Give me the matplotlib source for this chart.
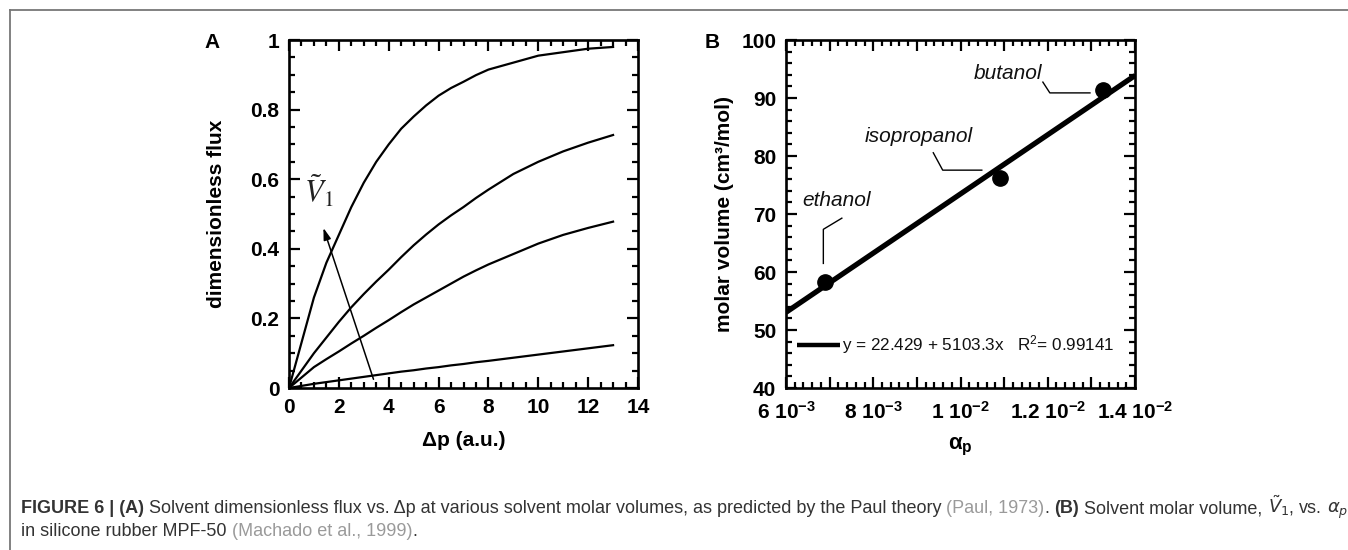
import matplotlib
matplotlib.use("Agg")
import matplotlib.pyplot as plt
from matplotlib.ticker import MultipleLocator, FixedLocator, FixedFormatter
from matplotlib.lines import Line2D
import numpy as np

plt.rcParams['font.family'] = ['Liberation Sans', 'DejaVu Sans']
plt.rcParams['mathtext.fontset'] = 'custom'
plt.rcParams['mathtext.rm'] = 'Liberation Sans'
plt.rcParams['mathtext.it'] = 'Liberation Sans:italic'
plt.rcParams['mathtext.bf'] = 'Liberation Sans:bold'

# ---------------- Panel A data ----------------
dp = [0, 0.5, 1, 1.5, 2, 2.5, 3, 3.5, 4, 4.5, 5, 5.5, 6, 6.5, 7, 7.5, 8, 9, 10, 11, 12, 13]
flux_1 = [0, 0.13, 0.26, 0.36, 0.44, 0.52, 0.59, 0.65, 0.70, 0.745, 0.78, 0.812, 0.84, 0.862, 0.88, 0.899,
          0.915, 0.935, 0.955, 0.965, 0.975, 0.98]
flux_2 = [0, 0.05, 0.10, 0.145, 0.19, 0.232, 0.27, 0.306, 0.34, 0.376, 0.41, 0.441, 0.47, 0.496, 0.52, 0.546,
          0.57, 0.615, 0.65, 0.68, 0.705, 0.727]
flux_3 = [0, 0.03, 0.06, 0.083, 0.105, 0.128, 0.15, 0.173, 0.195, 0.218, 0.24, 0.26, 0.28, 0.30, 0.32, 0.338,
          0.355, 0.385, 0.415, 0.44, 0.46, 0.478]
flux_4 = [0, 0.006, 0.012, 0.017, 0.022, 0.027, 0.032, 0.037, 0.042, 0.047, 0.051, 0.056, 0.06, 0.065, 0.069,
          0.074, 0.078, 0.087, 0.096, 0.105, 0.114, 0.123]
arrow_tail = (3.39, 0.025)
arrow_head = (1.38, 0.46)
arrow_label_pos = (1.2, 0.565)

# ---------------- Panel B data ----------------
solvents = ["ethanol", "isopropanol", "butanol"]
alpha_p = [0.00689, 0.01091, 0.01327]
molar_volume = [58.2, 76.2, 91.4]
fit_intercept = 22.429
fit_slope = 5103.3
fit_r2 = 0.99141
xb_ticks = [0.006, 0.007, 0.008, 0.009, 0.010, 0.011, 0.012, 0.013, 0.014]
xb_labels = [r"$\mathbf{6\ 10^{-3}}$", "", r"$\mathbf{8\ 10^{-3}}$", "", r"$\mathbf{1\ 10^{-2}}$", "",
             r"$\mathbf{1.2\ 10^{-2}}$", "", r"$\mathbf{1.4\ 10^{-2}}$"]

W, H = 1348, 550
fig = plt.figure(figsize=(W / 100, H / 100), dpi=100)
fig.patch.set_facecolor('white')


def ax_rect(l, t, r, b):
    return [l / W, 1 - b / H, (r - l) / W, (b - t) / H]


def style_axes(ax):
    for s in ax.spines.values():
        s.set_linewidth(1.9)
        s.set_color('black')
    ax.tick_params(which='both', direction='in', top=True, right=True, width=1.6, color='black')
    ax.tick_params(which='major', length=8, labelsize=15, pad=7)
    ax.tick_params(which='minor', length=4.5)
    for lab in ax.get_xticklabels() + ax.get_yticklabels():
        lab.set_fontweight('bold')


# ---------------- Panel A ----------------
axA = fig.add_axes(ax_rect(289, 40, 638, 388))
for f in (flux_1, flux_2, flux_3, flux_4):
    axA.plot(dp, f, color='black', lw=1.6, solid_joinstyle='round')
axA.set_xlim(0, 14)
axA.set_ylim(0, 1)
axA.xaxis.set_major_locator(MultipleLocator(2))
axA.xaxis.set_minor_locator(MultipleLocator(0.5))
axA.yaxis.set_major_locator(FixedLocator([0, 0.2, 0.4, 0.6, 0.8, 1.0]))
axA.yaxis.set_major_formatter(FixedFormatter(["0", "0.2", "0.4", "0.6", "0.8", "1"]))
axA.yaxis.set_minor_locator(MultipleLocator(0.05))
style_axes(axA)
axA.annotate("", xy=arrow_head, xytext=arrow_tail,
             arrowprops=dict(arrowstyle='-|>,head_length=0.7,head_width=0.22', color='black', lw=1.1,
                             shrinkA=0, shrinkB=0))
axA.text(*arrow_label_pos, r"$\tilde{V}_1$", math_fontfamily='stix', fontsize=22,
         ha='center', va='center', color='#222')
axA.set_xlabel("Δp (a.u.)", fontsize=15, fontweight='bold')
axA.xaxis.label.set_va('center')
axA.xaxis.set_label_coords(0.5, (388 - 441) / 348)
axA.set_ylabel("dimensionless flux", fontsize=15, fontweight='bold')
axA.yaxis.label.set_va('center')
axA.yaxis.set_label_coords((216 - 289) / 349, 0.5)
axA.text((212 - 289) / 349, (388 - 42) / 348, "A", transform=axA.transAxes, fontsize=15,
         fontweight='bold', ha='center', va='center')

# ---------------- Panel B ----------------
axB = fig.add_axes(ax_rect(786, 40, 1135, 388))
xb_lim = (0.006, 0.014)
xfit = np.array(xb_lim)
axB.plot(xfit, fit_intercept + fit_slope * xfit, color='black', lw=3.8, solid_capstyle='butt')
axB.plot(alpha_p, molar_volume, 'o', color='black', ms=11)
axB.set_xlim(*xb_lim)
axB.set_ylim(40, 100)
axB.xaxis.set_major_locator(FixedLocator(xb_ticks))
axB.xaxis.set_major_formatter(FixedFormatter(xb_labels))
axB.xaxis.set_minor_locator(MultipleLocator(0.0002))
axB.yaxis.set_major_locator(MultipleLocator(10))
axB.yaxis.set_minor_locator(MultipleLocator(2))
style_axes(axB)
axB.tick_params(axis='x', which='major', pad=9)
axB.set_xlabel(r"$\mathbf{\alpha_p}$", fontsize=16)
axB.xaxis.label.set_va('center')
axB.xaxis.set_label_coords(0.5, (388 - 447) / 348)
axB.set_ylabel("molar volume (cm³/mol)", fontsize=15, fontweight='bold')
axB.yaxis.label.set_va('center')
axB.yaxis.set_label_coords((724 - 786) / 349, 0.5)
axB.text((712 - 786) / 349, (388 - 42) / 348, "B", transform=axB.transAxes, fontsize=15,
         fontweight='bold', ha='center', va='center')

# solvent labels with leader lines (axes-fraction geometry)
label_pos = {"ethanol": (0.145, 0.540), "isopropanol": (0.379, 0.722), "butanol": (0.637, 0.904)}
leaders = {"ethanol": ([0.160, 0.107, 0.107], [0.488, 0.456, 0.358]),
           "isopropanol": ([0.422, 0.449, 0.561], [0.676, 0.626, 0.626]),
           "butanol": ([0.736, 0.756, 0.871], [0.879, 0.848, 0.848])}
for name in solvents:
    axB.text(*label_pos[name], name, transform=axB.transAxes, fontsize=15, style='italic',
             ha='center', va='center', color='#111')
    lx, ly = leaders[name]
    axB.plot(lx, ly, transform=axB.transAxes, color='black', lw=1.0)

axB.plot([0.031, 0.155], [0.124, 0.124], transform=axB.transAxes, color='black', lw=3.2,
         solid_capstyle='butt')
axB.text(0.160, 0.124, f"y = {fit_intercept} + {fit_slope}x   R$^2$= {fit_r2}", transform=axB.transAxes,
         fontsize=12.3, ha='left', va='center', color='#111')

# ---------------- frame ----------------
fig.add_artist(Line2D([10 / W, 1], [1 - 10 / H, 1 - 10 / H], transform=fig.transFigure, color='#777', lw=1.3))
fig.add_artist(Line2D([10 / W, 10 / W], [0, 1 - 10 / H], transform=fig.transFigure, color='#777', lw=1.3))

# ---------------- caption ----------------
dark = '#333333'
grey = '#9a9a9a'
cap_fs = 12.95
renderer = fig.canvas.get_renderer()


def text_w(s, **kw):
    t = fig.text(0, 0, s, fontsize=cap_fs, **kw)
    w = t.get_window_extent(renderer).width
    t.remove()
    return w


space_w = text_w("a a") - text_w("aa")


def place(segments, x_px, y_px):
    x = x_px
    for seg in segments:
        if seg == ' ':
            x += space_w
            continue
        s, weight, color = seg
        t = fig.text(x / W, 1 - y_px / H, s, fontsize=cap_fs, fontweight=weight, color=color,
                     ha='left', va='baseline', math_fontfamily='dejavusans')
        x += t.get_window_extent(renderer).width


line1 = [("FIGURE 6 | (A)", 'bold', dark), ' ',
         ("Solvent dimensionless flux vs. Δp at various solvent molar volumes, as predicted by the Paul theory",
          'normal', dark), ' ',
         ("(Paul, 1973)", 'normal', grey), (".", 'normal', dark), ' ',
         ("(B)", 'bold', dark), ' ',
         ("Solvent molar volume,", 'normal', dark), ' ',
         (r"$\tilde{V}_1$", 'normal', dark), (",", 'normal', dark), ' ',
         ("vs.", 'normal', dark), ' ', (r"$\alpha_p$", 'normal', dark)]
line2 = [("in silicone rubber MPF-50", 'normal', dark), ' ',
         ("(Machado et al., 1999)", 'normal', grey), (".", 'normal', dark)]
place(line1, 21, 513)
place(line2, 21, 536)

fig.savefig("out.png", dpi=100, facecolor='white')
